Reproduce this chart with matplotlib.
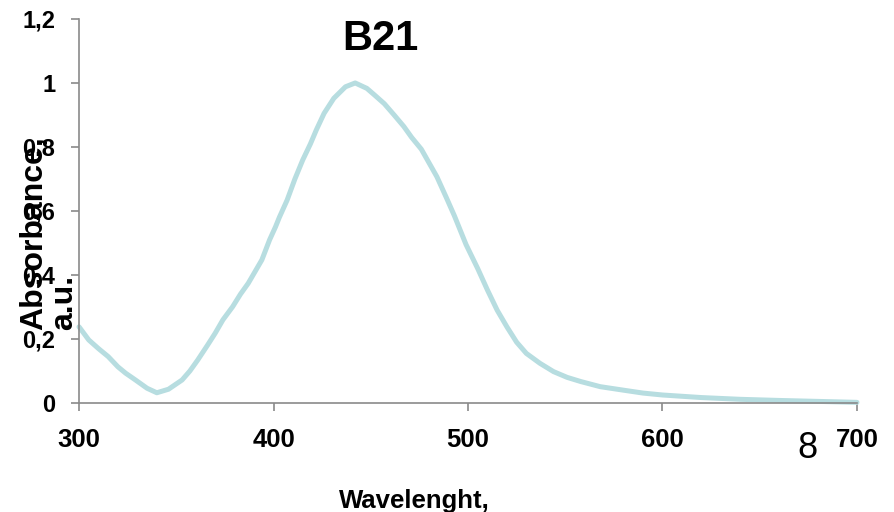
import matplotlib.pyplot as plt

# UV-Vis spectrum of sample B21
wavelength = [300, 305, 310, 315, 320, 324, 329, 335, 340, 346, 353, 357, 361, 366,
              370, 374, 379, 383, 387, 394, 398, 401, 403, 407, 411, 415, 419, 422,
              426, 431, 437, 442, 448, 452, 457, 462, 467, 471, 476, 480, 484, 489,
              493, 499, 505, 510, 515, 520, 525, 530, 537, 544, 551, 558, 568, 580,
              590, 600, 620, 640, 660, 680, 700]
absorbance = [0.238, 0.197, 0.17, 0.145, 0.113, 0.093, 0.072, 0.046, 0.032, 0.043,
              0.072, 0.10, 0.134, 0.18, 0.218, 0.26, 0.301, 0.34, 0.374, 0.447,
              0.51, 0.55, 0.58, 0.634, 0.70, 0.759, 0.81, 0.853, 0.905, 0.952,
              0.988, 1.0, 0.983, 0.962, 0.935, 0.90, 0.864, 0.83, 0.793, 0.75,
              0.707, 0.64, 0.585, 0.495, 0.42, 0.353, 0.29, 0.238, 0.19, 0.155,
              0.124, 0.098, 0.08, 0.067, 0.051, 0.04, 0.031, 0.025, 0.017, 0.0115,
              0.008, 0.005, 0.002]

xticks = [300, 400, 500, 600, 700]
yticks = [0, 0.2, 0.4, 0.6, 0.8, 1.0, 1.2]
ytick_labels = ['0', '0,2', '0,4', '0,6', '0,8', '1', '1,2']

plt.rcParams['font.family'] = ['Liberation Sans', 'DejaVu Sans']

fig = plt.figure(figsize=(8.95, 5.12), dpi=100)
ax = fig.add_axes([0.0883, 0.2129, 0.8692, 0.7501])

ax.plot(wavelength, absorbance, color='#b7dde0', lw=3.6,
        solid_capstyle='round', solid_joinstyle='round', clip_on=False)

ax.set_xlim(300, 700)
ax.set_ylim(0, 1.2)
for s in ['top', 'right']:
    ax.spines[s].set_visible(False)
for s in ['left', 'bottom']:
    ax.spines[s].set_color('#8a8a8a')
    ax.spines[s].set_linewidth(1.2)

ax.set_xticks(xticks)
ax.set_xticklabels([str(t) for t in xticks], fontsize=18.5, fontweight='bold')
ax.set_yticks(yticks)
ax.set_yticklabels(ytick_labels, fontsize=17, fontweight='bold')
ax.tick_params(axis='both', direction='out', length=6, width=1.2, color='#8a8a8a')
ax.tick_params(axis='x', pad=12)
ax.tick_params(axis='y', pad=11)

fig.text(380 / 895, 1 - 50 / 512, 'B21', fontsize=30, fontweight='bold',
         ha='center', va='baseline')

fig.text(49 / 895, 1 - 330 / 512, 'Absorbance,\na.u.', fontsize=23,
         fontweight='bold', rotation=90, ha='center', va='bottom',
         multialignment='left', linespacing=1.0)

fig.text(414 / 895, 1 - 489 / 512, 'Wavelenght,\nnm', fontsize=18.5,
         fontweight='bold', ha='center', va='top', multialignment='center')

fig.text(807 / 895, 1 - 449 / 512, '8', fontsize=26, ha='center', va='center')

fig.savefig('out.png', dpi=100)
